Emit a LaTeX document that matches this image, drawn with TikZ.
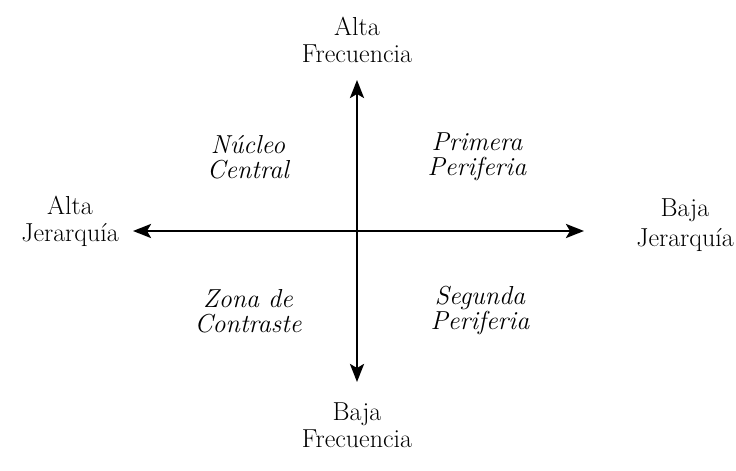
\documentclass[tikz,border=0pt]{standalone}
\usetikzlibrary{arrows.meta}
\begin{document}
\begin{tikzpicture}[x=1pt,y=1pt,
  lbl/.style={align=center,font=\fontsize{26}{27}\selectfont,inner sep=0pt},
  qlbl/.style={align=center,font=\fontsize{26}{25}\selectfont\itshape,inner sep=0pt},
  axis/.style={line width=2.6pt,-{Stealth[length=18pt,width=14pt,inset=4pt]}}]
\useasboundingbox (0,0) rectangle (736,471);
\coordinate (o) at (357,240);
\coordinate (up) at (357,391);
\coordinate (dn) at (357,89);
\coordinate (lt) at (133,240);
\coordinate (rt) at (584,240);
\draw[axis] (o) -- (up);
\draw[axis] (o) -- (dn);
\draw[axis] (o) -- (lt);
\draw[axis] (o) -- (rt);
\node[lbl] (af) at (357,431) {Alta\\Frecuencia};
\node[lbl] (bf) at (357,46) {Baja\\Frecuencia};
\node[lbl] (aj) at (70,250) {Alta\\Jerarquía};
\node[lbl] (bj) at (685,246) {Baja\\[3pt]Jerarquía};
\node[qlbl] (nc) at (248,314) {Núcleo\\Central};
\node[qlbl] (pp) at (477,314) {Primera\\Periferia};
\node[qlbl] (zc) at (248,160) {Zona de\\Contraste};
\node[qlbl] (sp) at (480,160) {Segunda\\Periferia};
\end{tikzpicture}
\end{document}
